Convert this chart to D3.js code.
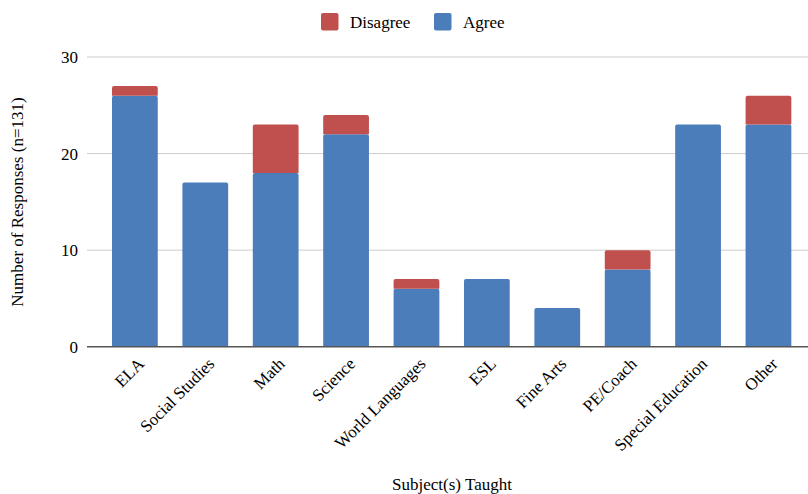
<!DOCTYPE html>
<html><head><meta charset="utf-8">
<script src="https://cdn.jsdelivr.net/npm/d3@7"></script>
<style>body{margin:0;background:#fff}svg{display:block}text{font-family:"Liberation Serif","Times New Roman",serif;fill:#000}</style>
</head><body><svg id="c" width="808" height="494"></svg>
<script>
const categories = ["ELA","Social Studies","Math","Science","World Languages","ESL","Fine Arts","PE/Coach","Special Education","Other"];
const agree = [26,17,18,22,6,7,4,8,23,23];
const disagree = [1,0,5,2,1,0,0,2,0,3];
const yTicks = [0,10,20,30];
const seriesNames = ["Disagree","Agree"];
const colors = {Agree:"#4a7dba", Disagree:"#c0504d"};

const svg = d3.select("#c");
const x = d3.scaleBand().domain(categories).range([87,808]).paddingInner(0.35).paddingOuter(0.296).align(0.6);
const y = d3.scaleLinear().domain([0,30]).range([346.7,57]);

// gridlines
svg.append("g").selectAll("line").data(yTicks.filter(d=>d>0)).join("line")
  .attr("x1",87).attr("x2",808).attr("y1",d=>y(d)).attr("y2",d=>y(d))
  .attr("stroke","#cccccc").attr("stroke-width",1);

// y tick labels
svg.append("g").selectAll("text").data(yTicks).join("text")
  .attr("x",78).attr("y",d=>y(d)).attr("dy","0.35em").attr("text-anchor","end")
  .attr("font-size",17).text(d=>d);

const data = categories.map((c,i)=>({cat:c, Agree:agree[i], Disagree:disagree[i]}));
const stack = d3.stack().keys(["Agree","Disagree"])(data);

function barPath(x0, w, yTop, yBot, r){
  r = Math.min(r, (yBot-yTop)/2);
  return `M${x0},${yBot}V${yTop+r}Q${x0},${yTop} ${x0+r},${yTop}H${x0+w-r}Q${x0+w},${yTop} ${x0+w},${yTop+r}V${yBot}Z`;
}
svg.append("g").selectAll("g").data(stack).join("g").attr("fill",s=>colors[s.key])
  .selectAll("path").data(s=>s.filter(d=>d[1]>d[0])).join("path")
  .attr("d",d=>barPath(x(d.data.cat), x.bandwidth(), y(d[1]), y(d[0]), 2));

// axis baseline
svg.append("line").attr("x1",87).attr("x2",808).attr("y1",y(0)).attr("y2",y(0))
  .attr("stroke","#555").attr("stroke-width",1.5);

// x labels
svg.append("g").selectAll("text").data(categories).join("text")
  .attr("transform",d=>`translate(${x(d)+x.bandwidth()/2+6},${y(0)+14}) rotate(-45)`)
  .attr("text-anchor","end").attr("dy","0.35em").attr("font-size",17).text(d=>d);

// axis titles
svg.append("text").attr("x",452).attr("y",490).attr("text-anchor","middle").attr("font-size",17).text("Subject(s) Taught");
svg.append("text").attr("transform","translate(23,202) rotate(-90)").attr("text-anchor","middle").attr("font-size",17).text("Number of Responses (n=131)");

// legend
const leg = [{k:"Disagree",x:321},{k:"Agree",x:434}];
const lg = svg.append("g").selectAll("g").data(leg).join("g").attr("transform",d=>`translate(${d.x},13)`);
lg.append("rect").attr("width",17.5).attr("height",17.5).attr("rx",2).attr("fill",d=>colors[d.k]);
lg.append("text").attr("x",29).attr("y",9).attr("dy","0.35em").attr("font-size",17).text(d=>d.k);
</script></body></html>
